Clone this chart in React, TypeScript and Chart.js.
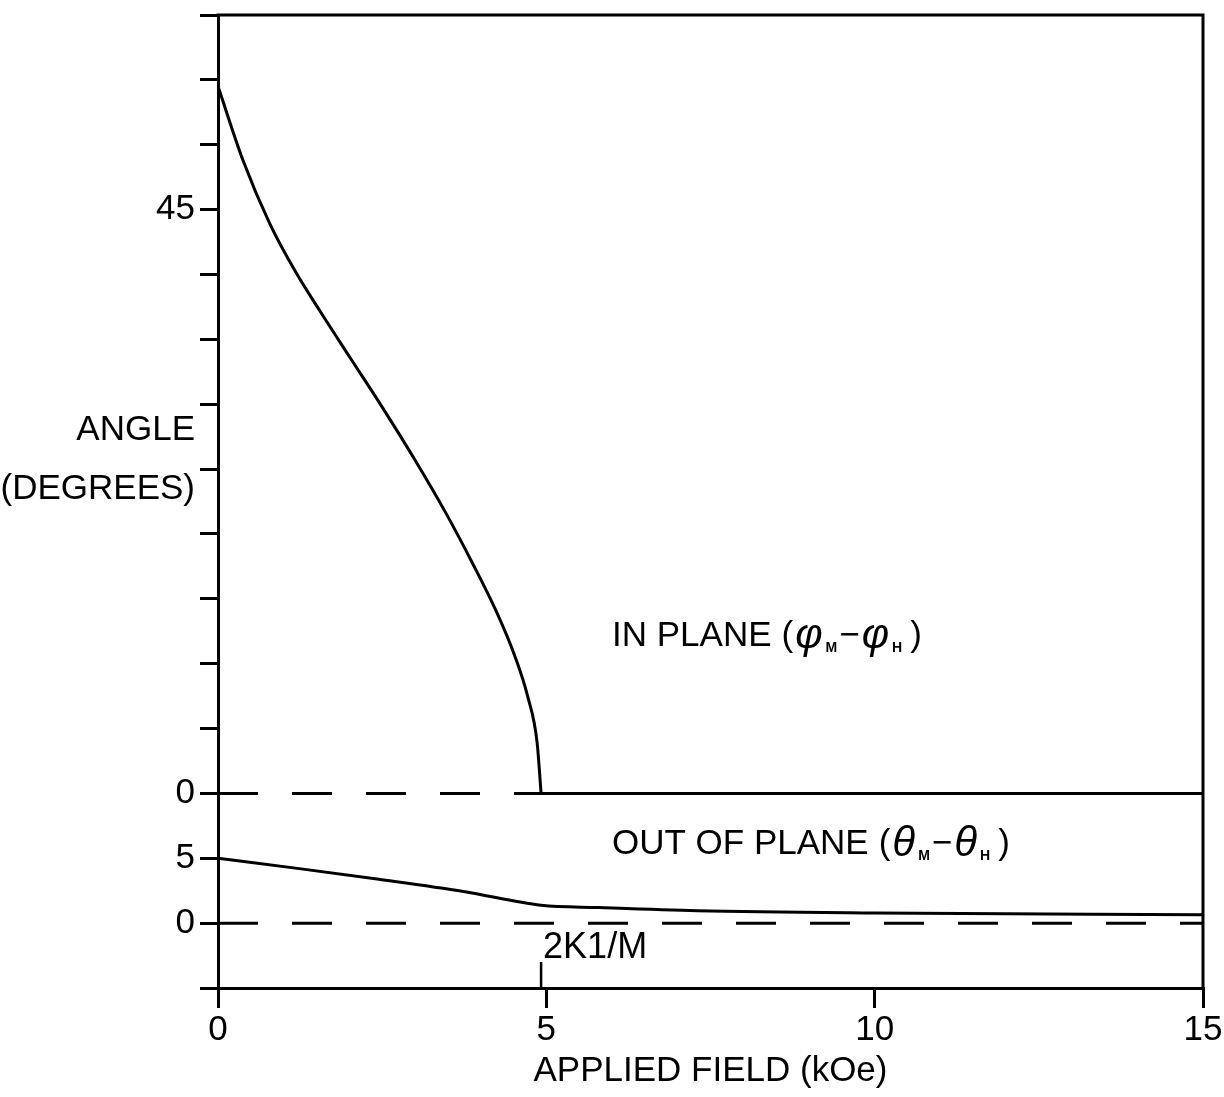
import React, { useEffect, useRef } from "react";
import { Chart, registerables } from "chart.js";

Chart.register(...registerables);

// Applied field (kOe) against the in-plane angle φM−φH (degrees)
const inPlaneField = [0, 0.38, 0.79, 1.17, 1.55, 2.01, 2.51, 3.0, 3.46, 3.87, 4.25, 4.52, 4.72, 4.86, 4.92];
const inPlaneAngle = [54.5, 48.8, 43.9, 40.3, 37.2, 33.6, 29.7, 25.7, 21.7, 17.8, 13.9, 10.6, 7.4, 3.9, 0];

// Above 2K1/M the magnetization follows the field in the plane
const inPlaneSaturatedField = [4.92, 15];
const inPlaneSaturatedAngle = [0, 0];

// Applied field (kOe) against the out-of-plane angle θM−θH (degrees)
const outPlaneField = [0, 1.18, 2.45, 3.74, 4.92, 5.8, 7.3, 10, 15];
const outPlaneAngle = [5.0, 4.24, 3.38, 2.44, 1.38, 1.2, 0.95, 0.78, 0.65];

// Zero reference lines of the two panels
const inPlaneZeroField = [0, 4.92];
const inPlaneZeroAngle = [0, 0];
const outPlaneZeroField = [0, 15];
const outPlaneZeroAngle = [0, 0];

// 2K1/M marker on the field axis
const anisotropyFieldValue = [4.92, 4.92];
const anisotropyMarkerAngle = [-5, -3.0];

const fieldTicks = [0, 5, 10, 15];
const inPlaneTickLabels = [0, 45];
const outPlaneTickLabels = [0, 5];

// The in-plane panel is stacked 10° above the out-of-plane zero
const PANEL_OFFSET = 10;
const AXIS_MIN = -5;
const AXIS_MAX = 70;

const FONT = "'Liberation Sans', Arial, sans-serif";
const INK = "#000";

type Run = { t: string; size: number; dy?: number; pre?: number; italic?: boolean; bold?: boolean };

function drawRuns(ctx: CanvasRenderingContext2D, x: number, y: number, runs: Run[]) {
  let cx = x;
  for (const r of runs) {
    cx += r.pre ?? 0;
    ctx.font = `${r.italic ? "italic " : ""}${r.bold ? "bold " : ""}${r.size}px ${FONT}`;
    ctx.fillText(r.t, cx, y + (r.dy ?? 0));
    cx += ctx.measureText(r.t).width;
  }
}

const formulaRuns = (symbol: string): Run[] => [
  { t: "(", size: 35, pre: 10 },
  { t: symbol, size: 42, italic: true, pre: 2 },
  { t: "M", size: 14, bold: true, dy: 12, pre: 3 },
  { t: "−", size: 35, pre: 2 },
  { t: symbol, size: 42, italic: true, pre: 2 },
  { t: "H", size: 14, bold: true, dy: 12, pre: 3 },
  { t: ")", size: 35, pre: 8 },
];

const labelsPlugin = {
  id: "panelLabels",
  afterDraw(chart: any) {
    const { ctx, chartArea } = chart;
    const xs = chart.scales.x;
    const ys = chart.scales.y;
    ctx.save();
    ctx.fillStyle = INK;
    ctx.strokeStyle = INK;

    // frame: top and right edges
    ctx.lineWidth = 3;
    ctx.lineCap = "square";
    ctx.beginPath();
    ctx.moveTo(chartArea.left, chartArea.top);
    ctx.lineTo(chartArea.right, chartArea.top);
    ctx.lineTo(chartArea.right, chartArea.bottom);
    ctx.stroke();

    ctx.textBaseline = "middle";

    // vertical axis title, written horizontally
    ctx.textAlign = "right";
    ctx.font = `35px ${FONT}`;
    ctx.fillText("ANGLE", chartArea.left - 23, ys.getPixelForValue(38.0));
    ctx.fillText("(DEGREES)", chartArea.left - 23, ys.getPixelForValue(33.4));

    ctx.textAlign = "left";
    drawRuns(ctx, xs.getPixelForValue(6.0), ys.getPixelForValue(22.1), [
      { t: "IN PLANE", size: 35 },
      ...formulaRuns("φ"),
    ]);

    drawRuns(ctx, xs.getPixelForValue(6.0), ys.getPixelForValue(6.1), [
      { t: "OUT OF PLANE", size: 35 },
      ...formulaRuns("θ"),
    ]);

    ctx.font = `36px ${FONT}`;
    ctx.fillText("2K1/M", xs.getPixelForValue(anisotropyFieldValue[0]) + 2, ys.getPixelForValue(-1.9));
    ctx.restore();
  },
};

export default function App() {
  const ref = useRef<HTMLCanvasElement>(null);

  useEffect(() => {
    const canvas = ref.current;
    if (!canvas) return;

    const toPoints = (xs: number[], ys: number[], offset = 0) =>
      xs.map((x, i) => ({ x, y: ys[i] + offset }));

    const line = (data: { x: number; y: number }[], extra: Record<string, unknown> = {}) => ({
      data,
      borderColor: INK,
      borderWidth: 3,
      pointRadius: 0,
      fill: false,
      cubicInterpolationMode: "monotone",
      ...extra,
    });

    const chart = new Chart(canvas, {
      type: "line",
      data: {
        datasets: [
          line(toPoints(inPlaneField, inPlaneAngle, PANEL_OFFSET)),
          line(toPoints(inPlaneSaturatedField, inPlaneSaturatedAngle, PANEL_OFFSET)),
          line(toPoints(inPlaneZeroField, inPlaneZeroAngle, PANEL_OFFSET), { borderDash: [40, 34] }),
          line(toPoints(outPlaneField, outPlaneAngle)),
          line(toPoints(outPlaneZeroField, outPlaneZeroAngle), { borderDash: [40, 34] }),
          line(toPoints(anisotropyFieldValue, anisotropyMarkerAngle), { clip: false, borderWidth: 2.5 }),
        ] as any,
      },
      options: {
        responsive: false,
        animation: false,
        devicePixelRatio: 1,
        layout: { padding: { top: 15, right: 21, left: 0, bottom: 0 } },
        plugins: { legend: { display: false }, tooltip: { enabled: false } },
        scales: {
          x: {
            type: "linear",
            min: 0,
            max: 15,
            afterBuildTicks: (s: any) => {
              s.ticks = fieldTicks.map((v) => ({ value: v }));
            },
            afterFit: (s: any) => {
              s.height = 109;
              s.paddingLeft = 0;
              s.paddingRight = 0;
            },
            grid: { drawOnChartArea: false, drawTicks: true, tickLength: 20, color: INK, lineWidth: 3 },
            border: { display: true, color: INK, width: 3 },
            ticks: {
              color: INK,
              font: { family: FONT, size: 35, lineHeight: 1 },
              padding: 5,
              maxRotation: 0,
              autoSkip: false,
              callback: (v: any) => String(v),
            },
            title: {
              display: true,
              text: "APPLIED FIELD (kOe)",
              color: INK,
              font: { family: FONT, size: 35, lineHeight: 1.2 },
              padding: { top: 0, bottom: 5 },
            },
          },
          y: {
            type: "linear",
            min: AXIS_MIN,
            max: AXIS_MAX,
            afterFit: (s: any) => {
              s.width = 218;
              s.paddingTop = 0;
              s.paddingBottom = 0;
            },
            grid: { drawOnChartArea: false, drawTicks: true, tickLength: 18, color: INK, lineWidth: 3 },
            border: { display: true, color: INK, width: 3 },
            ticks: {
              stepSize: 5,
              autoSkip: false,
              color: INK,
              padding: 5,
              font: { family: FONT, size: 35, lineHeight: 1 },
              callback: (v: any) => {
                const value = Number(v);
                if (value < PANEL_OFFSET) {
                  return outPlaneTickLabels.includes(value) ? String(value) : "";
                }
                const a = value - PANEL_OFFSET;
                return inPlaneTickLabels.includes(a) ? String(a) : "";
              },
            },
          },
        },
      },
      plugins: [labelsPlugin],
    } as any);

    return () => chart.destroy();
  }, []);

  return (
    <div style={{ position: "absolute", left: 0, top: 0, width: 1224, height: 1097, background: "#fff" }}>
      <canvas ref={ref} width={1224} height={1097} />
    </div>
  );
}
